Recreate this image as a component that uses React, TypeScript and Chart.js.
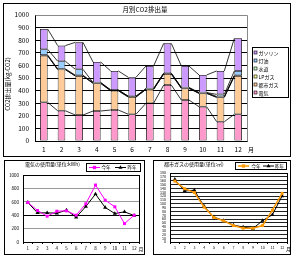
import React, { useEffect, useRef } from 'react';
import { Chart, registerables } from 'chart.js';

Chart.register(...registerables);

const FAMILY = '"Noto Sans CJK JP", "Noto Sans", sans-serif';

// ---------- data ----------
const months = ['1', '2', '3', '4', '5', '6', '7', '8', '9', '10', '11', '12'];

// 月別CO2排出量 (kg-CO2), stacked bottom -> top
const co2Denki = [307, 240, 206, 238, 246, 212, 300, 444, 325, 272, 153, 212];
const co2ToshiGas = [370, 327, 310, 220, 153, 137, 110, 88, 93, 106, 194, 304];
const co2LpGas = [0, 0, 0, 0, 0, 0, 0, 0, 0, 0, 0, 0];
const co2Suido = [6, 6, 6, 6, 6, 6, 6, 6, 6, 6, 6, 6];
const co2Touyu = [45, 60, 47, 0, 0, 0, 0, 0, 0, 0, 17, 34];
const co2Gasoline = [161, 124, 214, 163, 151, 150, 180, 237, 171, 140, 186, 259];

const co2Names = ['電気', '都市ガス', 'LPガス', '水道', '灯油', 'ガソリン'];
const co2Colors = ['#FF99CC', '#FFCC99', '#FFFF99', '#CCFFCC', '#99CCFF', '#CC99FF'];

// 電気の使用量 (kWh)
const elecThisYear = [590, 470, 385, 460, 465, 400, 570, 850, 625, 525, 275, 400];
const elecLastYear = [590, 435, 435, 430, 475, 370, 530, 715, 515, 425, 450, 395];

// 都市ガスの使用量 (m3)
const gasThisYear = [159, 139, 129, 91, 64, 55, 43, 36, 36, 43, 83, 127];
const gasLastYear = [163, 133, 135, 93, 65, 56, 44, 39, 35, 56, 71, 120];

const seriesNames = ['今年', '昨年'];

const f = (s: number) => `${s}px ${FAMILY}`;
const plain = (v: any) => String(v);

function marker(ctx: CanvasRenderingContext2D, style: string, x: number, y: number, r: number, color: string) {
  ctx.fillStyle = color;
  if (style === 'rect') {
    const h = r * 0.75;
    ctx.fillRect(x - h, y - h, h * 2, h * 2);
  } else {
    ctx.beginPath();
    ctx.moveTo(x, y - r);
    ctx.lineTo(x + r * 0.9, y + r * 0.55);
    ctx.lineTo(x - r * 0.9, y + r * 0.55);
    ctx.closePath();
    ctx.fill();
  }
}

// ---------- top chart ----------
function topConfig(): any {
  const values = [co2Denki, co2ToshiGas, co2LpGas, co2Suido, co2Touyu, co2Gasoline];
  const deco = {
    id: 'topDeco',
    beforeDraw(chart: any) {
      const ctx = chart.ctx;
      ctx.save();
      ctx.fillStyle = '#fff';
      ctx.fillRect(0, 0, chart.width, chart.height);
      ctx.strokeStyle = '#000';
      ctx.lineWidth = 1;
      ctx.strokeRect(3.5, 3.5, 287, 153);
      ctx.restore();
    },
    beforeDatasetsDraw(chart: any) {
      const { ctx, chartArea: a } = chart;
      ctx.save();
      ctx.strokeStyle = '#888';
      ctx.lineWidth = 1;
      ctx.beginPath();
      ctx.moveTo(Math.round(a.left) + 0.5, Math.round(a.top) + 0.5);
      ctx.lineTo(Math.round(a.right) + 0.5, Math.round(a.top) + 0.5);
      ctx.lineTo(Math.round(a.right) + 0.5, Math.round(a.bottom) + 0.5);
      ctx.stroke();
      ctx.restore();
    },
    afterDatasetsDraw(chart: any) {
      const ctx = chart.ctx;
      ctx.save();
      ctx.strokeStyle = '#000';
      ctx.lineWidth = 0.8;
      chart.data.datasets.forEach((_d: any, di: number) => {
        const els = chart.getDatasetMeta(di).data;
        for (let i = 0; i < els.length - 1; i++) {
          const a = els[i];
          const b = els[i + 1];
          ctx.beginPath();
          ctx.moveTo(a.x + a.width / 2, a.y);
          ctx.lineTo(b.x - b.width / 2, b.y);
          ctx.stroke();
        }
      });
      ctx.restore();
    },
    afterDraw(chart: any) {
      const ctx = chart.ctx;
      ctx.save();
      ctx.fillStyle = '#000';
      ctx.textBaseline = 'middle';
      ctx.textAlign = 'center';
      ctx.font = f(6.5);
      ctx.fillText('月別CO2排出量', 145, 9.5);
      // y title
      ctx.save();
      ctx.translate(8, 84);
      ctx.rotate(-Math.PI / 2);
      ctx.font = f(6);
      ctx.fillText('CO2排出量(kg-CO2)', 0, 0);
      ctx.restore();
      // 月
      ctx.font = f(6);
      ctx.fillText('月', 251, 150);
      // legend
      ctx.strokeStyle = '#000';
      ctx.lineWidth = 1;
      ctx.strokeRect(252.5, 47.5, 36, 50);
      ctx.textAlign = 'left';
      ctx.font = f(5);
      for (let k = 0; k < 6; k++) {
        const idx = 5 - k;
        const y = 52.5 + k * 8;
        ctx.fillStyle = co2Colors[idx];
        ctx.fillRect(254, y - 1.5, 3, 3);
        ctx.strokeStyle = '#000';
        ctx.lineWidth = 0.6;
        ctx.strokeRect(254, y - 1.5, 3, 3);
        ctx.fillStyle = '#000';
        ctx.fillText(co2Names[idx], 258.5, y + 0.3);
      }
      ctx.restore();
    },
  };
  return {
    type: 'bar',
    data: {
      labels: months,
      datasets: values.map((v, i) => ({
        label: co2Names[i],
        data: v,
        backgroundColor: co2Colors[i],
        borderColor: '#000',
        borderWidth: 0.8,
        borderSkipped: false,
        categoryPercentage: 1,
        barPercentage: 0.43,
      })),
    },
    options: {
      responsive: false,
      animation: false,
      layout: { padding: { left: 0, right: 53, top: 15, bottom: 0 } },
      plugins: { legend: { display: false }, tooltip: { enabled: false }, title: { display: false } },
      scales: {
        x: {
          stacked: true,
          grid: { display: false },
          border: { color: '#000', width: 1 },
          ticks: { font: { family: FAMILY, size: 6.5 }, color: '#000', padding: -3, maxRotation: 0, autoSkip: false },
          afterFit(s: any) { s.height = 17; },
        },
        y: {
          stacked: true,
          min: 0,
          max: 1000,
          grid: {
            color: (c: any) => (c.tick && c.tick.value === 1000 ? '#888' : '#000'),
            lineWidth: 1,
            drawTicks: false,
          },
          border: { color: '#000', width: 1 },
          ticks: { stepSize: 100, font: { family: FAMILY, size: 6.5 }, color: '#000', padding: 6, callback: plain },
          afterFit(s: any) { s.width = 35; },
        },
      },
    },
    plugins: [deco],
  };
}

// ---------- bottom line charts ----------
interface LineSpec {
  title: string;
  thisYear: number[];
  lastYear: number[];
  thisColor: string;
  thisWidth: number;
  max: number;
  step: number;
  box: [number, number, number, number];
  legend: { x: number; y: number; w: number; h: number; l1: number; t1: number; l2: number; t2: number };
  titlePos: [number, number];
  monthPos: [number, number];
  padding: { left: number; right: number; top: number; bottom: number };
  yWidth: number;
  xHeight: number;
  tickSize: number;
  gridColor: (v: number) => string;
}

function lineConfig(s: LineSpec): any {
  const deco = {
    id: 'lineDeco',
    beforeDraw(chart: any) {
      const ctx = chart.ctx;
      ctx.save();
      ctx.fillStyle = '#fff';
      ctx.fillRect(0, 0, chart.width, chart.height);
      ctx.strokeStyle = '#000';
      ctx.lineWidth = 1;
      ctx.strokeRect(s.box[0], s.box[1], s.box[2], s.box[3]);
      ctx.restore();
    },
    beforeDatasetsDraw(chart: any) {
      const { ctx, chartArea: a } = chart;
      ctx.save();
      ctx.strokeStyle = '#000';
      ctx.lineWidth = 1;
      ctx.strokeRect(Math.round(a.left) + 0.5, Math.round(a.top) + 0.5, Math.round(a.right - a.left), Math.round(a.bottom - a.top));
      ctx.restore();
    },
    afterDraw(chart: any) {
      const ctx = chart.ctx;
      ctx.save();
      ctx.fillStyle = '#000';
      ctx.textBaseline = 'middle';
      ctx.textAlign = 'left';
      ctx.font = f(5);
      ctx.fillText(s.title, s.titlePos[0], s.titlePos[1]);
      ctx.font = f(5);
      ctx.textAlign = 'center';
      ctx.fillText('月', s.monthPos[0], s.monthPos[1]);
      const L = s.legend;
      ctx.strokeStyle = '#000';
      ctx.lineWidth = 1;
      ctx.strokeRect(L.x, L.y, L.w, L.h);
      const cy = L.y + L.h / 2;
      // this year
      ctx.strokeStyle = s.thisColor;
      ctx.lineWidth = s.thisWidth;
      ctx.beginPath();
      ctx.moveTo(L.l1, cy);
      ctx.lineTo(L.l1 + 11, cy);
      ctx.stroke();
      marker(ctx, 'rect', L.l1 + 5.5, cy, 2.2, s.thisColor);
      // last year
      ctx.strokeStyle = '#000';
      ctx.lineWidth = 1;
      ctx.beginPath();
      ctx.moveTo(L.l2, cy);
      ctx.lineTo(L.l2 + 11, cy);
      ctx.stroke();
      marker(ctx, 'tri', L.l2 + 5.5, cy, 2.2, '#000');
      ctx.fillStyle = '#000';
      ctx.textAlign = 'left';
      ctx.font = f(4.5);
      ctx.fillText(seriesNames[0], L.t1, cy + 0.2);
      ctx.fillText(seriesNames[1], L.t2, cy + 0.2);
      ctx.restore();
    },
  };
  return {
    type: 'line',
    data: {
      labels: months,
      datasets: [
        {
          label: seriesNames[0],
          data: s.thisYear,
          borderColor: s.thisColor,
          backgroundColor: s.thisColor,
          borderWidth: s.thisWidth,
          pointStyle: 'rect',
          pointRadius: 2.1,
          pointBackgroundColor: s.thisColor,
          pointBorderColor: s.thisColor,
          pointBorderWidth: 0,
          tension: 0,
        },
        {
          label: seriesNames[1],
          data: s.lastYear,
          borderColor: '#000',
          backgroundColor: '#000',
          borderWidth: 1,
          pointStyle: 'triangle',
          pointRadius: 2.4,
          pointBackgroundColor: '#000',
          pointBorderColor: '#000',
          pointBorderWidth: 0,
          tension: 0,
        },
      ],
    },
    options: {
      responsive: false,
      animation: false,
      layout: { padding: s.padding },
      plugins: { legend: { display: false }, tooltip: { enabled: false }, title: { display: false } },
      scales: {
        x: {
          offset: true,
          grid: { display: true, drawOnChartArea: false, drawTicks: true, tickLength: 2, color: '#000', offset: true },
          border: { color: '#000', width: 1 },
          ticks: { font: { family: FAMILY, size: s.tickSize }, color: '#000', padding: 1.5, maxRotation: 0, autoSkip: false },
          afterFit(sc: any) { sc.height = s.xHeight; },
        },
        y: {
          min: 0,
          max: s.max,
          grid: { color: (c: any) => s.gridColor(c.tick ? c.tick.value : 0), lineWidth: 1, drawTicks: false },
          border: { color: '#000', width: 1 },
          ticks: { stepSize: s.step, autoSkip: false, font: { family: FAMILY, size: s.tickSize }, color: '#000', padding: 4, callback: plain },
          afterFit(sc: any) { sc.width = s.yWidth; },
        },
      },
    },
    plugins: [deco],
  };
}

function elecConfig() {
  return lineConfig({
    title: '電気の使用量(単位:kWh)',
    thisYear: elecThisYear,
    lastYear: elecLastYear,
    thisColor: '#FF00FF',
    thisWidth: 1,
    max: 1000,
    step: 200,
    box: [4.5, 2.5, 140, 94],
    legend: { x: 86.5, y: 5.5, w: 54, h: 8, l1: 89, t1: 101.5, l2: 115, t2: 127.5 },
    titlePos: [25, 6.5],
    monthPos: [141, 91],
    padding: { left: 0, right: 11, top: 17, bottom: 0 },
    yWidth: 23,
    xHeight: 14,
    tickSize: 4.5,
    gridColor: (v) => (v === 400 ? '#000' : '#999'),
  });
}

function gasConfig() {
  return lineConfig({
    title: '都市ガスの使用量(単位:㎥)',
    thisYear: gasThisYear,
    lastYear: gasLastYear,
    thisColor: '#FF9900',
    thisWidth: 1.5,
    max: 180,
    step: 10,
    box: [3.5, 2.5, 137, 94],
    legend: { x: 85.5, y: 4.5, w: 51, h: 7, l1: 88, t1: 101.5, l2: 113, t2: 125 },
    titlePos: [14, 6],
    monthPos: [138.5, 91],
    padding: { left: 0, right: 13, top: 15, bottom: 0 },
    yWidth: 20,
    xHeight: 14,
    tickSize: 3.6,
    gridColor: () => '#222',
  });
}

export default function App() {
  const r1 = useRef<HTMLCanvasElement>(null);
  const r2 = useRef<HTMLCanvasElement>(null);
  const r3 = useRef<HTMLCanvasElement>(null);

  useEffect(() => {
    const charts: Chart[] = [];
    if (r1.current) charts.push(new Chart(r1.current, topConfig()));
    if (r2.current) charts.push(new Chart(r2.current, elecConfig()));
    if (r3.current) charts.push(new Chart(r3.current, gasConfig()));
    return () => charts.forEach((c) => c.destroy());
  }, []);

  return (
    <div style={{ position: 'fixed', left: 0, top: 0, width: 300, height: 256, background: '#fff', overflow: 'hidden' }}>
      <canvas ref={r1} width={300} height={158} style={{ position: 'absolute', left: 0, top: 0, width: 300, height: 158 }} />
      <canvas ref={r2} width={150} height={98} style={{ position: 'absolute', left: 0, top: 158, width: 150, height: 98 }} />
      <canvas ref={r3} width={150} height={98} style={{ position: 'absolute', left: 150, top: 158, width: 150, height: 98 }} />
    </div>
  );
}
